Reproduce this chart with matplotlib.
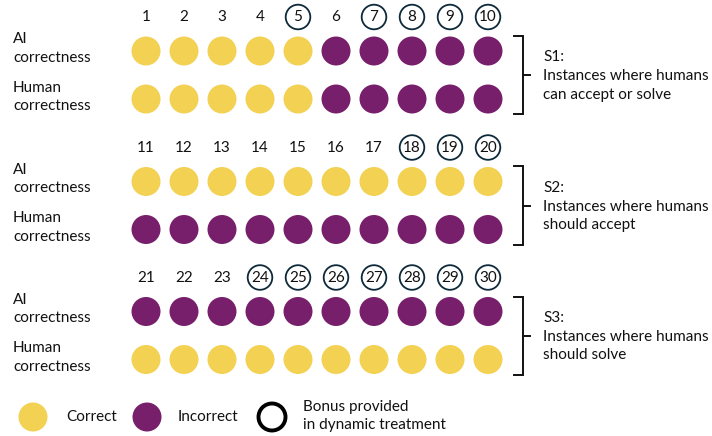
import matplotlib.pyplot as plt
from matplotlib.patches import Circle

# 1 = correct, 0 = incorrect, one list per group of 10 instances
ai_correct = [
    [1, 1, 1, 1, 1, 0, 0, 0, 0, 0],
    [1, 1, 1, 1, 1, 1, 1, 1, 1, 1],
    [0, 0, 0, 0, 0, 0, 0, 0, 0, 0],
]
human_correct = [
    [1, 1, 1, 1, 1, 0, 0, 0, 0, 0],
    [0, 0, 0, 0, 0, 0, 0, 0, 0, 0],
    [1, 1, 1, 1, 1, 1, 1, 1, 1, 1],
]
bonus = [5, 7, 8, 9, 10, 18, 19, 20, 24, 25, 26, 27, 28, 29, 30]
group_names = ["S1:", "S2:", "S3:"]
group_desc = ["Instances where humans\ncan accept or solve",
              "Instances where humans\nshould accept",
              "Instances where humans\nshould solve"]

YELLOW = "#F3D153"
PURPLE = "#781F6C"
RING = "#0E2A3A"
TXT = "#111111"
FONT = "Lato"

fig = plt.figure(figsize=(7.12, 4.36), dpi=100)
ax = fig.add_axes([0, 0, 1, 1])
ax.set_xlim(0, 712)
ax.set_ylim(436, 0)
ax.set_aspect("equal")
ax.axis("off")

x0, dx = 146, 38
r = 14.5
tops = [17, 147.5, 277.5]
for g in range(3):
    top = tops[g]
    y_ai = top + 34
    y_hu = top + 82
    for i in range(10):
        n = g * 10 + i + 1
        x = x0 + i * dx
        ax.text(x, top, str(n), ha="center", va="center", fontsize=11, family=FONT, color=TXT)
        if n in bonus:
            ax.add_patch(Circle((x, top), 12.3, fill=False, ec=RING, lw=1.3))
        ax.add_patch(Circle((x, y_ai), r, color=YELLOW if ai_correct[g][i] else PURPLE, lw=0))
        ax.add_patch(Circle((x, y_hu), r, color=YELLOW if human_correct[g][i] else PURPLE, lw=0))
    ax.text(13, y_ai - 2.5, "AI\ncorrectness", ha="left", va="center", fontsize=11, family=FONT,
            color=TXT, linespacing=1.45)
    ax.text(13, y_hu - 2, "Human\ncorrectness", ha="left", va="center", fontsize=11, family=FONT,
            color=TXT, linespacing=1.45)
    # bracket
    bx = 514
    yt, yb = y_ai - 15, y_hu + 15
    ym = (yt + yb) / 2
    ax.plot([bx, bx + 8.5, bx + 8.5, bx], [yt, yt, yb, yb], color=TXT, lw=1.4,
            solid_joinstyle="miter")
    ax.plot([bx + 8.5, bx + 16], [ym, ym], color=TXT, lw=1.4)
    ax.text(543, ym + 1, group_names[g] + "\n" + group_desc[g], ha="left", va="center",
            fontsize=11, family=FONT, color=TXT, linespacing=1.45)

# legend
ly = 417
ax.add_patch(Circle((33, ly), r, color=YELLOW, lw=0))
ax.text(66, ly, "Correct", ha="left", va="center", fontsize=11, family=FONT, color=TXT)
ax.add_patch(Circle((147, ly), r, color=PURPLE, lw=0))
ax.text(178, ly, "Incorrect", ha="left", va="center", fontsize=11, family=FONT, color=TXT)
ax.add_patch(Circle((272, ly), 13.5, fill=False, ec="black", lw=2.8))
ax.text(303, ly - 1, "Bonus provided\nin dynamic treatment", ha="left", va="center",
        fontsize=11, family=FONT, color=TXT, linespacing=1.3)

fig.savefig("out.png", dpi=100)
